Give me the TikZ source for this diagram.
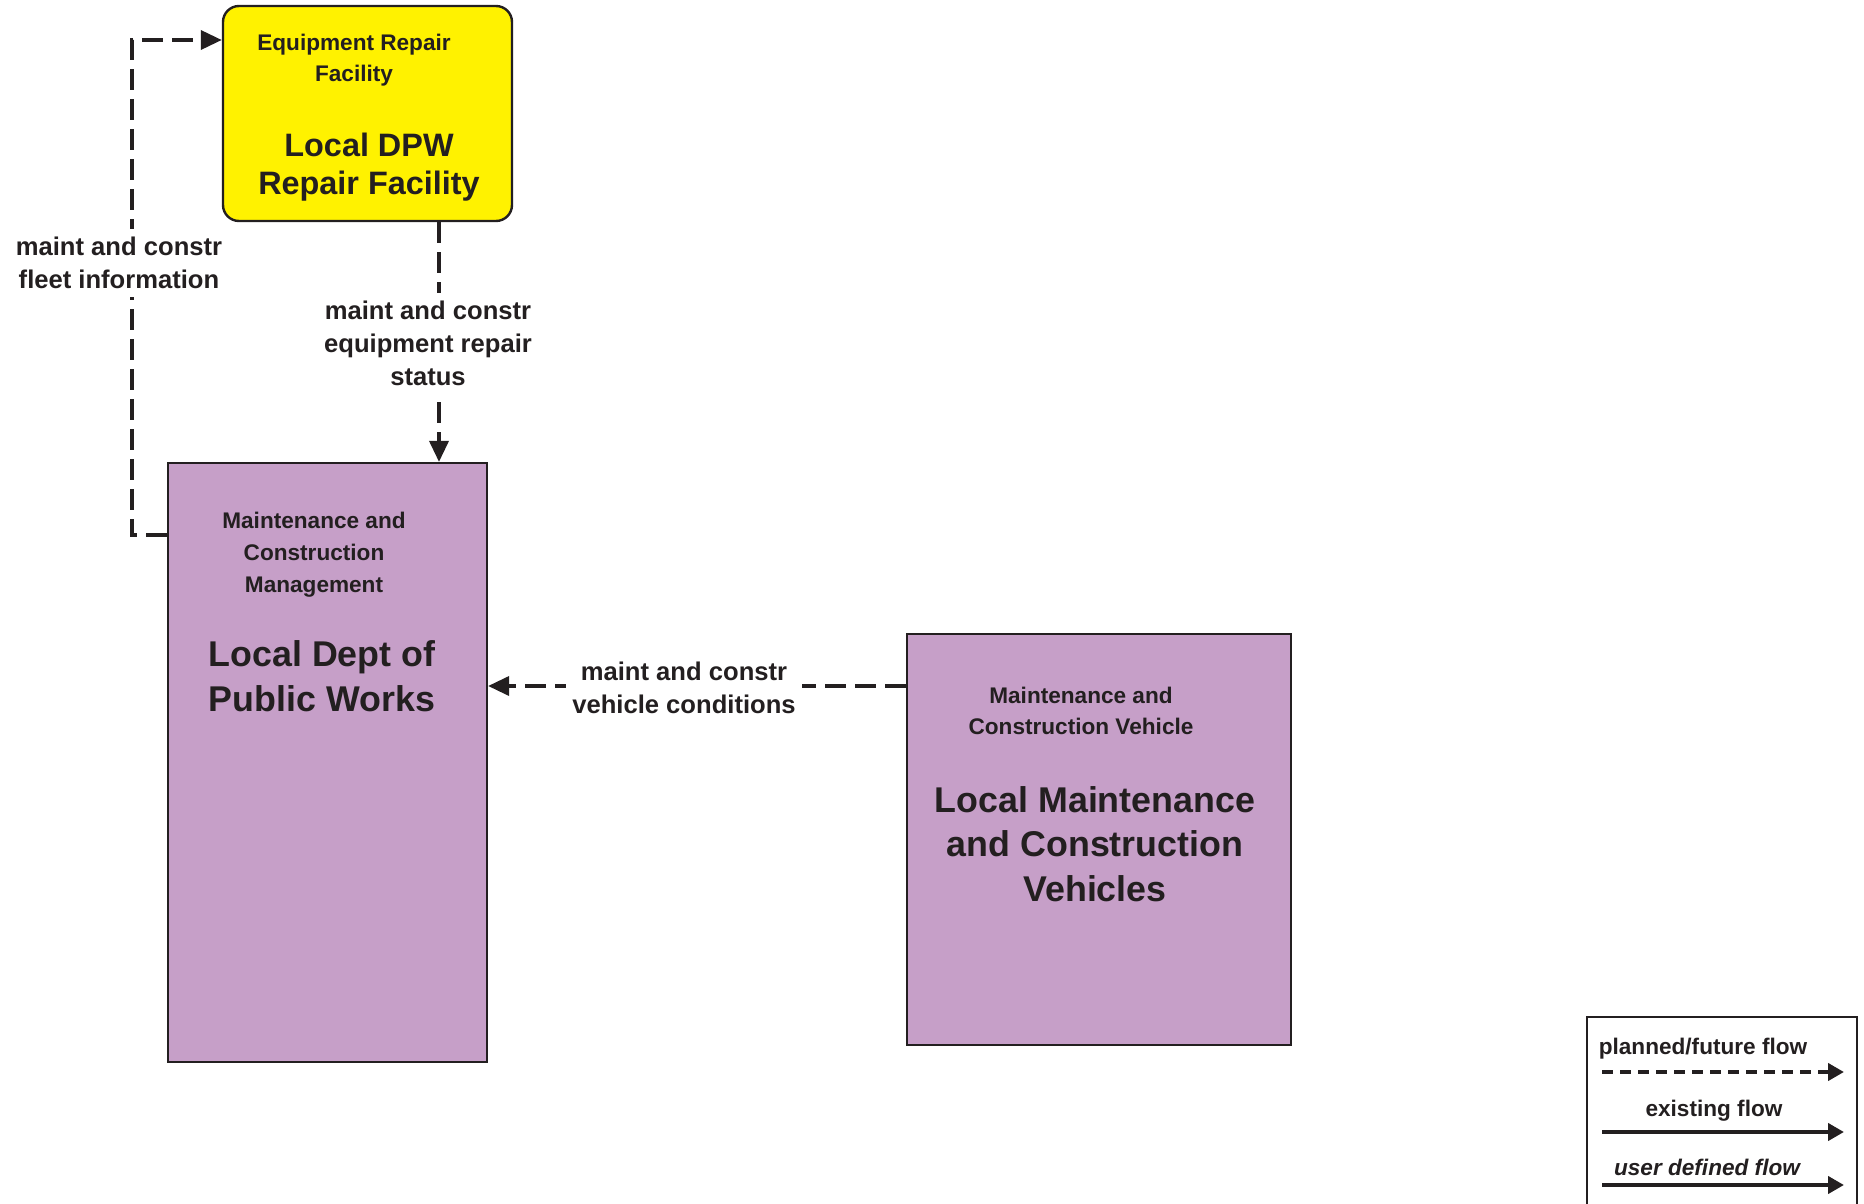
\documentclass[tikz,border=0pt]{standalone}
\usepackage{fontspec}
\setmainfont{Liberation Sans}
\usetikzlibrary{arrows.meta}
\definecolor{ink}{HTML}{231F20}
\definecolor{repairyellow}{HTML}{FFF200}
\definecolor{termpurple}{HTML}{C69FC8}

\begin{document}
\begin{tikzpicture}[x=0.5pt, y=-0.5pt, font=\bfseries, text=ink,
    every node/.style={inner sep=0pt, align=center},
    facility/.style={draw=ink, line width=1.2pt, fill=repairyellow, rounded corners=8pt},
    terminator/.style={draw=ink, line width=1.1pt, fill=termpurple},
    subtitle/.style={font=\bfseries\fontsize{11.3}{15.5}\selectfont},
    title/.style={font=\bfseries\fontsize{17.9}{22.3}\selectfont},
    flowlabel/.style={fill=white, inner xsep=3pt, inner ysep=4pt, font=\bfseries\fontsize{12.8}{16.5}\selectfont},
    flowtip/.style={-{Triangle[length=10.5pt,width=9.5pt]}},
    planned/.style={draw=ink, line width=1.8pt, dash pattern=on 10.5pt off 4.5pt, flowtip},
    legendflow/.style={draw=ink, line width=2.2pt, -{Triangle[length=8pt,width=8.5pt]}}]

    \useasboundingbox (0,0) rectangle (1864,1204);

    \node [facility, minimum width=144.5pt, minimum height=107.5pt] (repair) at (367.5,113.5) {};
    \node [terminator, minimum width=159.5pt, minimum height=299.5pt] (dpw) at (327.5,762.5) {};
    \node [terminator, minimum width=192pt, minimum height=205.5pt] (vehicles) at (1099,839.5) {};

    \node [subtitle] (repairtype) at (354,60) {Equipment Repair\\Facility};
    \node [title, font=\bfseries\fontsize{16.2}{19}\selectfont] (repairname) at (369,167) {Local DPW\\Repair Facility};
    \node [subtitle, font=\bfseries\fontsize{11.3}{16}\selectfont] (dpwtype) at (314,555) {Maintenance and\\Construction\\Management};
    \node [title] (dpwname) at (322,676) {Local Dept of\\Public Works};
    \node [subtitle] (vehtype) at (1081,711) {Maintenance and\\Construction Vehicle};
    \node [title] (vehname) at (1095,844) {Local Maintenance\\and Construction\\Vehicles};

    \coordinate (fleetstart) at (dpw.west |- 0,535);
    \coordinate (fleetend) at (repair.west |- 0,40);
    \draw [planned] (fleetstart) -- (132,535) -- (132,40) -- (fleetend);
    \draw [planned] (repair.south -| 439,0) -- (dpw.north -| 439,0);
    \draw [planned] (vehicles.west |- 0,686) -- (dpw.east |- 0,686);

    \node [flowlabel] (fleetinfo) at (119,263) {maint and constr\\fleet information};
    \node [flowlabel] (repairstatus) at (428,343) {maint and constr\\equipment repair\\status};
    \node [flowlabel] (vehconditions) at (684,688) {maint and constr\\vehicle conditions};

    \node [draw=ink, line width=0.9pt, minimum width=135pt, minimum height=100pt, anchor=north west] (legend) at (1586,1016) {};
    \node [subtitle] (plannedtext) at (1703,1049) {planned/future flow};
    \node [subtitle] (existingtext) at (1714,1111) {existing flow};
    \node [subtitle, font=\bfseries\itshape\fontsize{11.3}{15.5}\selectfont] (usertext) at (1707,1167) {user defined flow};
    \coordinate (plannedfrom) at (1602,1072);
    \coordinate (plannedto) at (1844,1072);
    \coordinate (existingfrom) at (1602,1132);
    \coordinate (existingto) at (1844,1132);
    \coordinate (userfrom) at (1602,1185);
    \coordinate (userto) at (1844,1185);
    \draw [legendflow, dash pattern=on 5.5pt off 3.5pt] (plannedfrom) -- (plannedto);
    \draw [legendflow] (existingfrom) -- (existingto);
    \draw [legendflow] (userfrom) -- (userto);
\end{tikzpicture}
\end{document}
